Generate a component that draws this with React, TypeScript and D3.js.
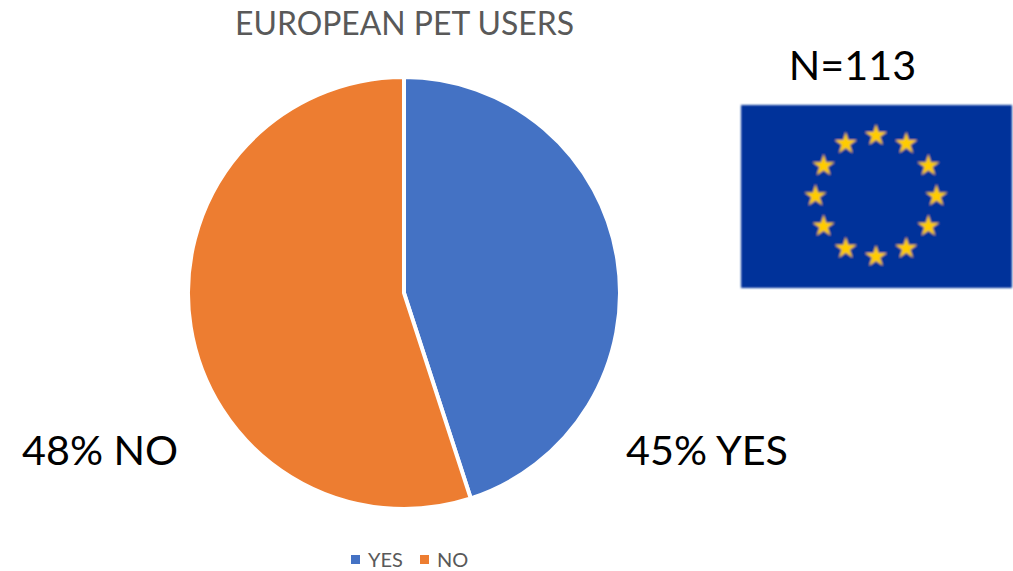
import React from "react";
import * as d3 from "d3";

const W = 1013;
const H = 571;

// Pie shares and their legend names
const categories = ["YES", "NO"];
const shares = [45, 55];
const sliceColors = ["#4472C4", "#ED7D31"];

// Annotations placed beside the pie
const chartTitle = "EUROPEAN PET USERS";
const yesNote = "45% YES";
const noNote = "48% NO";
const sampleNote = "N=113";

// The twelve stars of the flag, as clock hours
const starHours = [12, 1, 2, 3, 4, 5, 6, 7, 8, 9, 10, 11];

const FONT = "Lato, 'Open Sans', sans-serif";

const starPath = (outer: number) => {
  const inner = outer * 0.382;
  const pts = d3.range(10).map((i) => {
    const r = i % 2 === 0 ? outer : inner;
    const a = (i * Math.PI) / 5;
    return [r * Math.sin(a), -r * Math.cos(a)] as [number, number];
  });
  return d3.line()(pts) + "Z";
};

export default function App() {
  const pie = d3.pie<number>().sort(null).value((d) => d);
  const arc = d3.arc<d3.PieArcDatum<number>>().innerRadius(0).outerRadius(216);
  const arcs = pie(shares);

  const hourAngle = d3.scaleLinear().domain([0, 12]).range([0, 2 * Math.PI]);
  const star = starPath(11.5);

  return (
    <svg
      width={W}
      height={H}
      viewBox={`0 0 ${W} ${H}`}
      style={{ position: "absolute", left: 0, top: 0, display: "block", background: "#fff" }}
    >
      <defs>
        <filter id="flagSoft" x="-5%" y="-5%" width="110%" height="110%">
          <feGaussianBlur stdDeviation="0.9" />
        </filter>
      </defs>

      <text x={404.5} y={35} textAnchor="middle" fontFamily={FONT} fontSize={31.9} fill="#595959">
        {chartTitle}
      </text>

      <g transform="translate(404,293)">
        {arcs.map((a, i) => (
          <path key={categories[i]} d={arc(a) ?? ""} fill={sliceColors[i]} stroke="#fff" strokeWidth={4} strokeLinejoin="miter" />
        ))}
      </g>

      <text x={22} y={465} fontFamily={FONT} fontSize={41.3} fill="#000">{noNote}</text>
      <text x={626} y={465} fontFamily={FONT} fontSize={41.3} fill="#000">{yesNote}</text>
      <text x={852.5} y={80} textAnchor="middle" fontFamily={FONT} fontSize={41.3} fill="#000">{sampleNote}</text>

      {/* Flag */}
      <g filter="url(#flagSoft)">
        <rect x={741} y={105} width={271} height={183} fill="#00319A" />
        <g transform="translate(876,196)">
          {starHours.map((h) => (
            <path
              key={h}
              d={star}
              fill="#FFCC00"
              transform={`translate(${60.5 * Math.sin(hourAngle(h))},${-60.5 * Math.cos(hourAngle(h))})`}
            />
          ))}
        </g>
      </g>

      {/* Legend */}
      <g fontFamily={FONT} fontSize={20} fill="#595959">
        <rect x={351} y={555} width={9} height={9} fill={sliceColors[0]} />
        <text x={368} y={567}>{categories[0]}</text>
        <rect x={420} y={555} width={9} height={9} fill={sliceColors[1]} />
        <text x={437} y={567}>{categories[1]}</text>
      </g>
    </svg>
  );
}
